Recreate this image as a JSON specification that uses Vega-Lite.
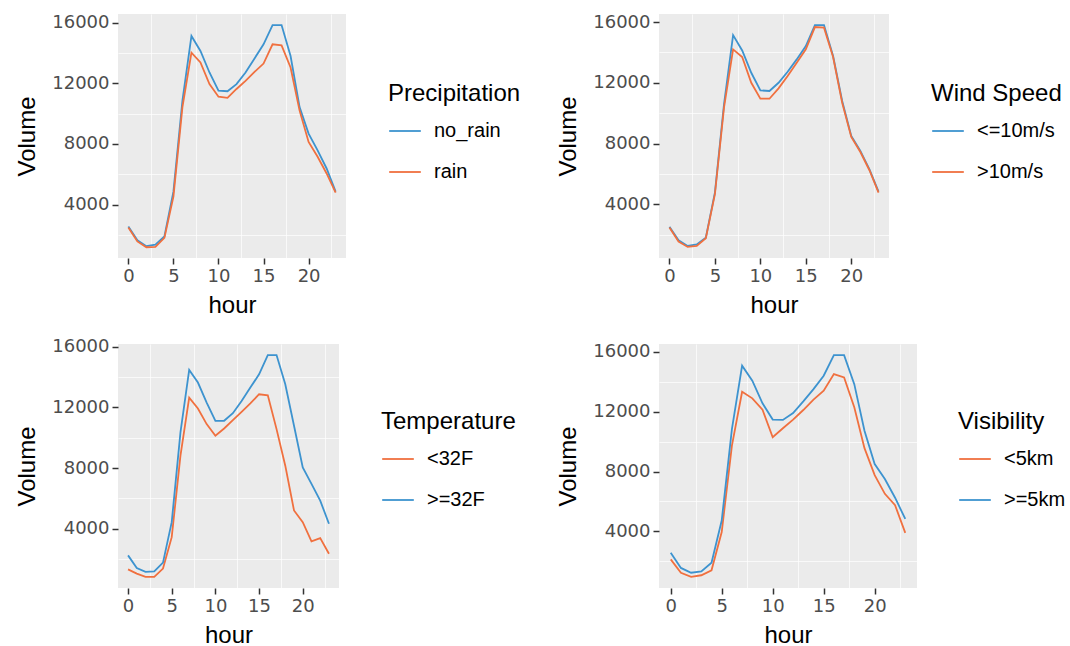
{
  "$schema": "https://vega.github.io/schema/vega-lite/v6.json",
  "padding": {"left": 15, "top": 13, "right": 0, "bottom": 0},
  "background": "white",
  "datasets": {
    "precip": [
      {"hour":0,"group":"no_rain","volume":2550},{"hour":1,"group":"no_rain","volume":1640},{"hour":2,"group":"no_rain","volume":1250},{"hour":3,"group":"no_rain","volume":1350},{"hour":4,"group":"no_rain","volume":1900},{"hour":5,"group":"no_rain","volume":4850},{"hour":6,"group":"no_rain","volume":10860},{"hour":7,"group":"no_rain","volume":15130},{"hour":8,"group":"no_rain","volume":14140},{"hour":9,"group":"no_rain","volume":12720},{"hour":10,"group":"no_rain","volume":11520},{"hour":11,"group":"no_rain","volume":11480},{"hour":12,"group":"no_rain","volume":11950},{"hour":13,"group":"no_rain","volume":12720},{"hour":14,"group":"no_rain","volume":13650},{"hour":15,"group":"no_rain","volume":14580},{"hour":16,"group":"no_rain","volume":15850},{"hour":17,"group":"no_rain","volume":15850},{"hour":18,"group":"no_rain","volume":13810},{"hour":19,"group":"no_rain","volume":10430},{"hour":20,"group":"no_rain","volume":8680},{"hour":21,"group":"no_rain","volume":7580},{"hour":22,"group":"no_rain","volume":6380},{"hour":23,"group":"no_rain","volume":4850},
      {"hour":0,"group":"rain","volume":2480},{"hour":1,"group":"rain","volume":1560},{"hour":2,"group":"rain","volume":1180},{"hour":3,"group":"rain","volume":1200},{"hour":4,"group":"rain","volume":1800},{"hour":5,"group":"rain","volume":4520},{"hour":6,"group":"rain","volume":10430},{"hour":7,"group":"rain","volume":14030},{"hour":8,"group":"rain","volume":13380},{"hour":9,"group":"rain","volume":11950},{"hour":10,"group":"rain","volume":11120},{"hour":11,"group":"rain","volume":11040},{"hour":12,"group":"rain","volume":11630},{"hour":13,"group":"rain","volume":12170},{"hour":14,"group":"rain","volume":12760},{"hour":15,"group":"rain","volume":13310},{"hour":16,"group":"rain","volume":14580},{"hour":17,"group":"rain","volume":14510},{"hour":18,"group":"rain","volume":13050},{"hour":19,"group":"rain","volume":10200},{"hour":20,"group":"rain","volume":8130},{"hour":21,"group":"rain","volume":7150},{"hour":22,"group":"rain","volume":6050},{"hour":23,"group":"rain","volume":4790}
    ],
    "wind": [
      {"hour":0,"group":"<=10m/s","volume":2510},{"hour":1,"group":"<=10m/s","volume":1630},{"hour":2,"group":"<=10m/s","volume":1255},{"hour":3,"group":"<=10m/s","volume":1350},{"hour":4,"group":"<=10m/s","volume":1800},{"hour":5,"group":"<=10m/s","volume":4770},{"hour":6,"group":"<=10m/s","volume":10580},{"hour":7,"group":"<=10m/s","volume":15140},{"hour":8,"group":"<=10m/s","volume":14130},{"hour":9,"group":"<=10m/s","volume":12660},{"hour":10,"group":"<=10m/s","volume":11500},{"hour":11,"group":"<=10m/s","volume":11460},{"hour":12,"group":"<=10m/s","volume":12000},{"hour":13,"group":"<=10m/s","volume":12730},{"hour":14,"group":"<=10m/s","volume":13540},{"hour":15,"group":"<=10m/s","volume":14420},{"hour":16,"group":"<=10m/s","volume":15800},{"hour":17,"group":"<=10m/s","volume":15800},{"hour":18,"group":"<=10m/s","volume":13760},{"hour":19,"group":"<=10m/s","volume":10800},{"hour":20,"group":"<=10m/s","volume":8500},{"hour":21,"group":"<=10m/s","volume":7510},{"hour":22,"group":"<=10m/s","volume":6300},{"hour":23,"group":"<=10m/s","volume":4830},
      {"hour":0,"group":">10m/s","volume":2470},{"hour":1,"group":">10m/s","volume":1540},{"hour":2,"group":">10m/s","volume":1190},{"hour":3,"group":">10m/s","volume":1260},{"hour":4,"group":">10m/s","volume":1760},{"hour":5,"group":">10m/s","volume":4660},{"hour":6,"group":">10m/s","volume":10360},{"hour":7,"group":">10m/s","volume":14200},{"hour":8,"group":">10m/s","volume":13700},{"hour":9,"group":">10m/s","volume":12000},{"hour":10,"group":">10m/s","volume":10950},{"hour":11,"group":">10m/s","volume":10950},{"hour":12,"group":">10m/s","volume":11630},{"hour":13,"group":">10m/s","volume":12450},{"hour":14,"group":">10m/s","volume":13320},{"hour":15,"group":">10m/s","volume":14200},{"hour":16,"group":">10m/s","volume":15670},{"hour":17,"group":">10m/s","volume":15630},{"hour":18,"group":">10m/s","volume":13700},{"hour":19,"group":">10m/s","volume":10690},{"hour":20,"group":">10m/s","volume":8430},{"hour":21,"group":">10m/s","volume":7440},{"hour":22,"group":">10m/s","volume":6240},{"hour":23,"group":">10m/s","volume":4770}
    ],
    "temp": [
      {"hour":0,"group":"<32F","volume":1330},{"hour":1,"group":"<32F","volume":1050},{"hour":2,"group":"<32F","volume":830},{"hour":3,"group":"<32F","volume":830},{"hour":4,"group":"<32F","volume":1380},{"hour":5,"group":"<32F","volume":3450},{"hour":6,"group":"<32F","volume":8820},{"hour":7,"group":"<32F","volume":12650},{"hour":8,"group":"<32F","volume":11930},{"hour":9,"group":"<32F","volume":10900},{"hour":10,"group":"<32F","volume":10130},{"hour":11,"group":"<32F","volume":10610},{"hour":12,"group":"<32F","volume":11160},{"hour":13,"group":"<32F","volume":11710},{"hour":14,"group":"<32F","volume":12260},{"hour":15,"group":"<32F","volume":12870},{"hour":16,"group":"<32F","volume":12800},{"hour":17,"group":"<32F","volume":10570},{"hour":18,"group":"<32F","volume":8160},{"hour":19,"group":"<32F","volume":5210},{"hour":20,"group":"<32F","volume":4440},{"hour":21,"group":"<32F","volume":3170},{"hour":22,"group":"<32F","volume":3390},{"hour":23,"group":"<32F","volume":2360},
      {"hour":0,"group":">=32F","volume":2250},{"hour":1,"group":">=32F","volume":1420},{"hour":2,"group":">=32F","volume":1160},{"hour":3,"group":">=32F","volume":1200},{"hour":4,"group":">=32F","volume":1770},{"hour":5,"group":">=32F","volume":4440},{"hour":6,"group":">=32F","volume":10350},{"hour":7,"group":">=32F","volume":14470},{"hour":8,"group":">=32F","volume":13640},{"hour":9,"group":">=32F","volume":12320},{"hour":10,"group":">=32F","volume":11120},{"hour":11,"group":">=32F","volume":11120},{"hour":12,"group":">=32F","volume":11620},{"hour":13,"group":">=32F","volume":12430},{"hour":14,"group":">=32F","volume":13310},{"hour":15,"group":">=32F","volume":14180},{"hour":16,"group":">=32F","volume":15450},{"hour":17,"group":">=32F","volume":15450},{"hour":18,"group":">=32F","volume":13530},{"hour":19,"group":">=32F","volume":10790},{"hour":20,"group":">=32F","volume":8050},{"hour":21,"group":">=32F","volume":6960},{"hour":22,"group":">=32F","volume":5860},{"hour":23,"group":">=32F","volume":4330}
    ],
    "vis": [
      {"hour":0,"group":"<5km","volume":2130},{"hour":1,"group":"<5km","volume":1240},{"hour":2,"group":"<5km","volume":960},{"hour":3,"group":"<5km","volume":1070},{"hour":4,"group":"<5km","volume":1400},{"hour":5,"group":"<5km","volume":3960},{"hour":6,"group":"<5km","volume":9730},{"hour":7,"group":"<5km","volume":13330},{"hour":8,"group":"<5km","volume":12890},{"hour":9,"group":"<5km","volume":12130},{"hour":10,"group":"<5km","volume":10290},{"hour":11,"group":"<5km","volume":10890},{"hour":12,"group":"<5km","volume":11470},{"hour":13,"group":"<5km","volume":12110},{"hour":14,"group":"<5km","volume":12800},{"hour":15,"group":"<5km","volume":13400},{"hour":16,"group":"<5km","volume":14510},{"hour":17,"group":"<5km","volume":14290},{"hour":18,"group":"<5km","volume":12290},{"hour":19,"group":"<5km","volume":9560},{"hour":20,"group":"<5km","volume":7760},{"hour":21,"group":"<5km","volume":6510},{"hour":22,"group":"<5km","volume":5750},{"hour":23,"group":"<5km","volume":3900},
      {"hour":0,"group":">=5km","volume":2580},{"hour":1,"group":">=5km","volume":1560},{"hour":2,"group":">=5km","volume":1240},{"hour":3,"group":">=5km","volume":1330},{"hour":4,"group":">=5km","volume":1910},{"hour":5,"group":">=5km","volume":4730},{"hour":6,"group":">=5km","volume":10840},{"hour":7,"group":">=5km","volume":15070},{"hour":8,"group":">=5km","volume":14070},{"hour":9,"group":">=5km","volume":12560},{"hour":10,"group":">=5km","volume":11470},{"hour":11,"group":">=5km","volume":11450},{"hour":12,"group":">=5km","volume":11910},{"hour":13,"group":">=5km","volume":12690},{"hour":14,"group":">=5km","volume":13510},{"hour":15,"group":">=5km","volume":14400},{"hour":16,"group":">=5km","volume":15780},{"hour":17,"group":">=5km","volume":15780},{"hour":18,"group":">=5km","volume":13840},{"hour":19,"group":">=5km","volume":10730},{"hour":20,"group":">=5km","volume":8500},{"hour":21,"group":">=5km","volume":7500},{"hour":22,"group":">=5km","volume":6250},{"hour":23,"group":">=5km","volume":4830}
    ]
  },
  "columns": 2,
  "spacing": {"row": 20, "column": 35},
  "resolve": {"scale": {"x": "independent", "y": "independent", "color": "independent"}, "legend": {"color": "independent"}},
  "concat": [
    {
      "width": 228, "height": 244,
      "data": {"name": "precip"},
      "resolve": {"axis": {"x": "independent", "y": "independent"}},
      "layer": [
        {"mark": {"type": "line", "opacity": 0},
         "encoding": {
           "x": {"field": "hour", "type": "quantitative", "scale": {"domain": [-1.15, 24.15], "nice": false, "zero": false},
                 "axis": {"orient": "bottom", "values": [2.5, 7.5, 12.5, 17.5, 22.5], "labels": false, "ticks": false, "title": null, "gridWidth": 0.7}},
           "y": {"field": "volume", "type": "quantitative", "scale": {"domain": [468, 16582], "nice": false, "zero": false},
                 "axis": {"orient": "left", "values": [2000, 6000, 10000, 14000], "labels": false, "ticks": false, "title": null, "gridWidth": 0.7}}
         }},
        {"mark": {"type": "line"},
         "encoding": {
           "x": {"field": "hour", "type": "quantitative", "title": "hour", "axis": {"orient": "bottom", "values": [0, 5, 10, 15, 20]}},
           "y": {"field": "volume", "type": "quantitative", "title": "Volume", "axis": {"orient": "left", "values": [4000, 8000, 12000, 16000], "format": "d"}},
           "color": {"field": "group", "type": "nominal", "scale": {"domain": ["no_rain", "rain"], "range": ["#3D93CF", "#F0703F"]},
                     "legend": {"title": "Precipitation", "legendX": 270, "legendY": 68}}
         }}
      ]
    },
    {
      "width": 230, "height": 244,
      "data": {"name": "wind"},
      "resolve": {"axis": {"x": "independent", "y": "independent"}},
      "layer": [
        {"mark": {"type": "line", "opacity": 0},
         "encoding": {
           "x": {"field": "hour", "type": "quantitative", "scale": {"domain": [-1.15, 24.15], "nice": false, "zero": false},
                 "axis": {"orient": "bottom", "values": [2.5, 7.5, 12.5, 17.5, 22.5], "labels": false, "ticks": false, "title": null, "gridWidth": 0.7}},
           "y": {"field": "volume", "type": "quantitative", "scale": {"domain": [460, 16530], "nice": false, "zero": false},
                 "axis": {"orient": "left", "values": [2000, 6000, 10000, 14000], "labels": false, "ticks": false, "title": null, "gridWidth": 0.7}}
         }},
        {"mark": {"type": "line"},
         "encoding": {
           "x": {"field": "hour", "type": "quantitative", "title": "hour", "axis": {"orient": "bottom", "values": [0, 5, 10, 15, 20]}},
           "y": {"field": "volume", "type": "quantitative", "title": "Volume", "axis": {"orient": "left", "values": [4000, 8000, 12000, 16000], "format": "d"}},
           "color": {"field": "group", "type": "nominal", "scale": {"domain": ["<=10m/s", ">10m/s"], "range": ["#3D93CF", "#F0703F"]},
                     "legend": {"title": "Wind Speed", "legendX": 272, "legendY": 68}}
         }}
      ]
    },
    {
      "width": 221, "height": 244,
      "data": {"name": "temp"},
      "resolve": {"axis": {"x": "independent", "y": "independent"}},
      "layer": [
        {"mark": {"type": "line", "opacity": 0},
         "encoding": {
           "x": {"field": "hour", "type": "quantitative", "scale": {"domain": [-1.15, 24.15], "nice": false, "zero": false},
                 "axis": {"orient": "bottom", "values": [2.5, 7.5, 12.5, 17.5, 22.5], "labels": false, "ticks": false, "title": null, "gridWidth": 0.7}},
           "y": {"field": "volume", "type": "quantitative", "scale": {"domain": [99, 16181], "nice": false, "zero": false},
                 "axis": {"orient": "left", "values": [2000, 6000, 10000, 14000], "labels": false, "ticks": false, "title": null, "gridWidth": 0.7}}
         }},
        {"mark": {"type": "line"},
         "encoding": {
           "x": {"field": "hour", "type": "quantitative", "title": "hour", "axis": {"orient": "bottom", "values": [0, 5, 10, 15, 20]}},
           "y": {"field": "volume", "type": "quantitative", "title": "Volume", "axis": {"orient": "left", "values": [4000, 8000, 12000, 16000], "format": "d"}},
           "color": {"field": "group", "type": "nominal", "scale": {"domain": ["<32F", ">=32F"], "range": ["#F0703F", "#3D93CF"]},
                     "legend": {"title": "Temperature", "legendX": 263, "legendY": 66}}
         }}
      ]
    },
    {
      "width": 258, "height": 244,
      "data": {"name": "vis"},
      "resolve": {"axis": {"x": "independent", "y": "independent"}},
      "layer": [
        {"mark": {"type": "line", "opacity": 0},
         "encoding": {
           "x": {"field": "hour", "type": "quantitative", "scale": {"domain": [-1.15, 24.15], "nice": false, "zero": false},
                 "axis": {"orient": "bottom", "values": [2.5, 7.5, 12.5, 17.5, 22.5], "labels": false, "ticks": false, "title": null, "gridWidth": 0.7}},
           "y": {"field": "volume", "type": "quantitative", "scale": {"domain": [219, 16521], "nice": false, "zero": false},
                 "axis": {"orient": "left", "values": [2000, 6000, 10000, 14000], "labels": false, "ticks": false, "title": null, "gridWidth": 0.7}}
         }},
        {"mark": {"type": "line"},
         "encoding": {
           "x": {"field": "hour", "type": "quantitative", "title": "hour", "axis": {"orient": "bottom", "values": [0, 5, 10, 15, 20]}},
           "y": {"field": "volume", "type": "quantitative", "title": "Volume", "axis": {"orient": "left", "values": [4000, 8000, 12000, 16000], "format": "d"}},
           "color": {"field": "group", "type": "nominal", "scale": {"domain": ["<5km", ">=5km"], "range": ["#F0703F", "#3D93CF"]},
                     "legend": {"title": "Visibility", "legendX": 299, "legendY": 66}}
         }}
      ]
    }
  ],
  "config": {
    "view": {"fill": "#EBEBEB", "stroke": null},
    "font": "Liberation Sans",
    "axis": {"domain": false, "grid": true, "gridColor": "#FFFFFF", "gridWidth": 1.6, "tickColor": "#333333", "tickSize": 6, "tickWidth": 1.5,
             "labelFont": "DejaVu Sans", "labelFontSize": 18, "labelColor": "#4D4D4D", "labelPadding": 3,
             "titleFont": "Liberation Sans", "titleFontSize": 24, "titleFontWeight": "normal", "titleColor": "#000000"},
    "axisX": {"titlePadding": 8},
    "axisY": {"titlePadding": 12},
    "legend": {"orient": "none", "titleFont": "Liberation Sans", "titleFontSize": 24, "titleFontWeight": "normal", "titleColor": "#000000",
               "labelFont": "Liberation Sans", "labelFontSize": 20, "labelColor": "#000000", "symbolType": "stroke", "symbolStrokeWidth": 2.5,
               "symbolSize": 1000, "rowPadding": 14, "titlePadding": 8, "labelOffset": 12, "padding": 0},
    "line": {"strokeWidth": 1.8}
  }
}
